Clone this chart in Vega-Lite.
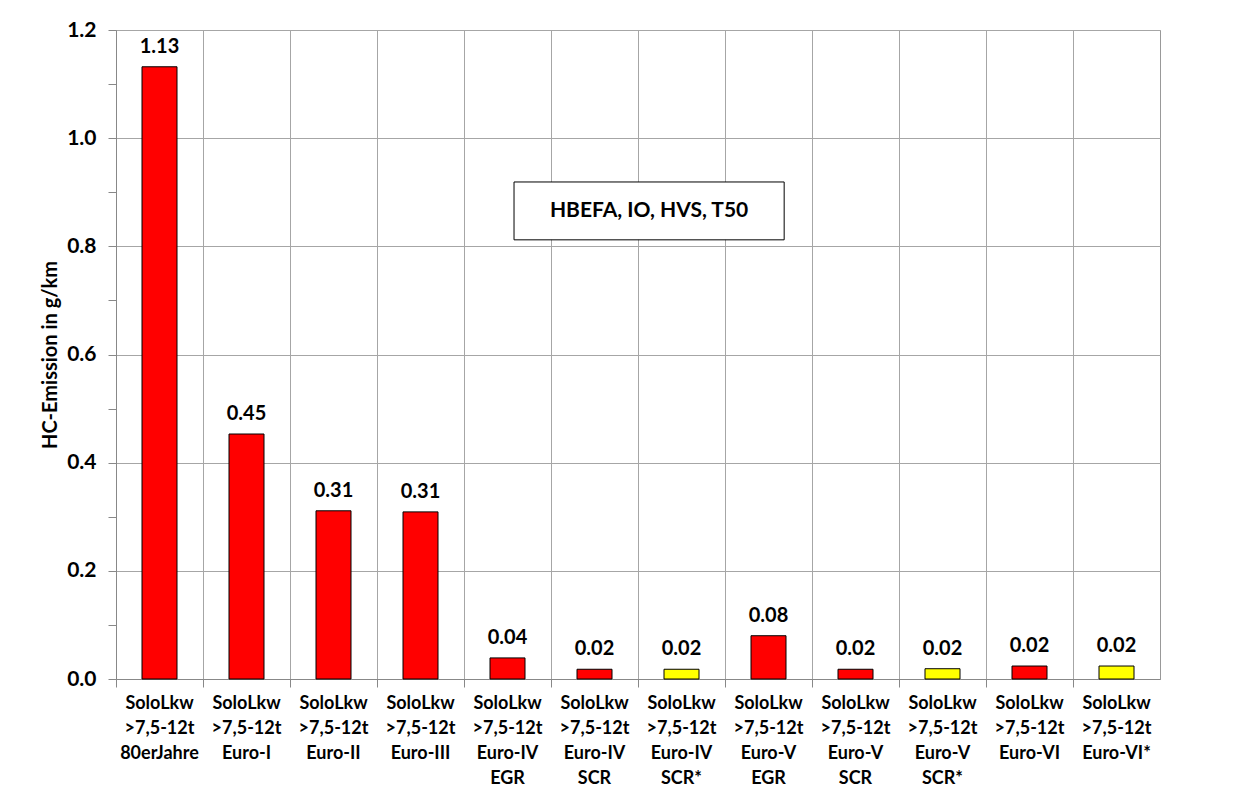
{
  "$schema": "https://vega.github.io/schema/vega-lite/v6.json",
  "width": 1044,
  "height": 649,
  "autosize": {"type": "none"},
  "padding": {"left": 116, "top": 30, "right": 91, "bottom": 126},
  "background": "white",
  "config": {
    "font": "Lato",
    "view": {"stroke": "#999999", "strokeWidth": 1}
  },
  "datasets": {
    "bars": [
      {"cat": "SoloLkw|>7,5-12t|80erJahre", "value": 1.132, "group": "red"},
      {"cat": "SoloLkw|>7,5-12t|Euro-I", "value": 0.453, "group": "red"},
      {"cat": "SoloLkw|>7,5-12t|Euro-II", "value": 0.311, "group": "red"},
      {"cat": "SoloLkw|>7,5-12t|Euro-III", "value": 0.309, "group": "red"},
      {"cat": "SoloLkw|>7,5-12t|Euro-IV|EGR", "value": 0.039, "group": "red"},
      {"cat": "SoloLkw|>7,5-12t|Euro-IV|SCR", "value": 0.018, "group": "red"},
      {"cat": "SoloLkw|>7,5-12t|Euro-IV|SCR*", "value": 0.018, "group": "yellow"},
      {"cat": "SoloLkw|>7,5-12t|Euro-V|EGR", "value": 0.080, "group": "red"},
      {"cat": "SoloLkw|>7,5-12t|Euro-V|SCR", "value": 0.018, "group": "red"},
      {"cat": "SoloLkw|>7,5-12t|Euro-V|SCR*", "value": 0.019, "group": "yellow"},
      {"cat": "SoloLkw|>7,5-12t|Euro-VI", "value": 0.024, "group": "red"},
      {"cat": "SoloLkw|>7,5-12t|Euro-VI*", "value": 0.024, "group": "yellow"}
    ],
    "note": [
      {"x": 4.575, "x2": 7.68, "y": 0.812, "y2": 0.919, "xm": 6.1275, "ym": 0.8655, "label": "HBEFA, IO, HVS, T50"}
    ]
  },
  "layer": [
    {
      "data": {"name": "bars"},
      "layer": [
        {
          "mark": {"type": "bar", "size": 35, "stroke": "black", "strokeWidth": 1},
          "encoding": {
            "x": {
              "field": "cat", "type": "nominal", "sort": null,
              "scale": {"paddingInner": 0, "paddingOuter": 0},
              "axis": {
                "title": null,
                "labelAngle": 0,
                "labelExpr": "split(datum.label, '|')",
                "labelFont": "Lato",
                "labelFontSize": 18,
                "labelFontWeight": "bold",
                "labelColor": "black",
                "labelLineHeight": 25,
                "labelPadding": 7,
                "labelBaseline": "top",
                "bandPosition": 0,
                "grid": true,
                "gridColor": "#a6a6a6",
                "gridWidth": 1,
                "ticks": true,
                "tickSize": 8,
                "tickColor": "#888888",
                "domainColor": "#888888"
              }
            },
            "y": {
              "field": "value", "type": "quantitative",
              "scale": {"domain": [0, 1.2], "nice": false},
              "axis": {
                "title": "HC-Emission in g/km",
                "titleFont": "Lato",
                "titleFontSize": 20,
                "titleFontWeight": "bold",
                "titleColor": "black",
                "titlePadding": 6,
                "values": [0, 0.05, 0.1, 0.15, 0.2, 0.25, 0.3, 0.35, 0.4, 0.45, 0.5, 0.55, 0.6, 0.65, 0.7, 0.75, 0.8, 0.85, 0.9, 0.95, 1.0, 1.05, 1.1, 1.15, 1.2],
                "labelExpr": "abs(round(datum.value*5) - datum.value*5) < 0.001 ? format(datum.value, '.1f') : ''",
                "labelFont": "Lato",
                "labelFontSize": 21,
                "labelFontWeight": "bold",
                "labelColor": "black",
                "labelPadding": 12,
                "grid": true,
                "gridColor": "#a6a6a6",
                "gridOpacity": {"condition": {"test": "abs(round(datum.value*5) - datum.value*5) < 0.001", "value": 1}, "value": 0},
                "tickColor": "#888888",
                "tickSize": 8,
                "domainColor": "#888888"
              }
            },
            "fill": {
              "field": "group", "type": "nominal",
              "scale": {"domain": ["red", "yellow"], "range": ["#ff0000", "#ffff00"]},
              "legend": null
            }
          }
        },
        {
          "mark": {"type": "text", "baseline": "bottom", "dy": -10, "fontSize": 20, "fontWeight": "bold", "font": "Lato", "color": "black"},
          "encoding": {
            "x": {"field": "cat", "type": "nominal", "sort": null},
            "y": {"field": "value", "type": "quantitative"},
            "text": {"field": "value", "type": "quantitative", "format": ".2f"}
          }
        }
      ]
    },
    {
      "data": {"name": "note"},
      "layer": [
        {
          "mark": {"type": "rect", "fill": "white", "stroke": "black", "strokeWidth": 1},
          "encoding": {
            "x": {"field": "x", "type": "quantitative", "scale": {"domain": [0, 12], "nice": false}, "axis": null},
            "x2": {"field": "x2"},
            "y": {"field": "y", "type": "quantitative"},
            "y2": {"field": "y2"}
          }
        },
        {
          "mark": {"type": "text", "fontSize": 21, "fontWeight": "bold", "font": "Lato", "color": "black", "align": "center", "baseline": "middle"},
          "encoding": {
            "x": {"field": "xm", "type": "quantitative", "scale": {"domain": [0, 12], "nice": false}, "axis": null},
            "y": {"field": "ym", "type": "quantitative"},
            "text": {"field": "label"}
          }
        }
      ]
    }
  ],
  "resolve": {"scale": {"x": "independent"}, "axis": {"x": "independent"}}
}
